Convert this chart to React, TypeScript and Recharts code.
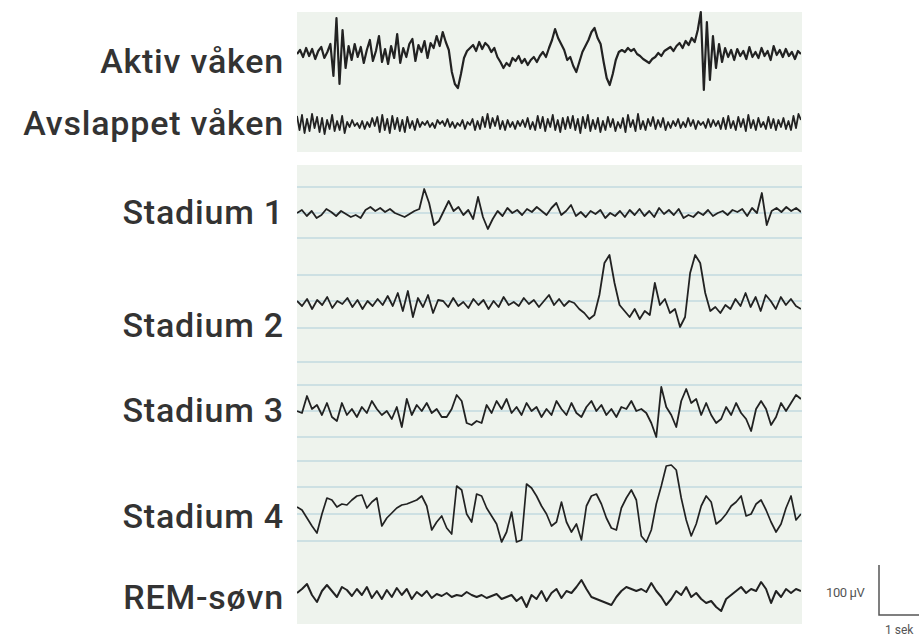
import { Line, LineChart, XAxis, YAxis } from 'recharts'

// EEG traces, amplitude (approx. 2 µV per step, up = positive)
const aktiv = [
  0, 4, -3, 6, -2, 5, -5, 3, 7, -4, 2,
  10, -22, 36, -30, 24, -14, 8,
  -6, 10, -3, 7, -9, 4, 14, -7, 3, 18, -8, 5, -10, 8, -4, 20, -9, 6, -3, 10, 15, -7, 9, 2, 13, -4, 11, 6, 18, 8, 22, 12,
  4, -18, -30, -34, -20, -4, 3, 6,
  9, 3, 12, 5, 11, 8, 2, 6, -3, -8,
  -14, -9, -12, -4, -7, -2, -9, -5, -11, -6, -3, -8, -2, 2, -3,
  6, 14, 25, 16, 10, 4, -6, -3, -12, -18, -8, 2, 8, 14, 22, 26, 16, 10, -8, -24, -31, -20, -6, 2, 4,
  2, 6, 3, 5, 0, -2, -5, -7, -9, -5, -3, 1, -2, 3, 5, 7, 3, 8, 11, 6, 13, 9, 16, 12,
  24, 42, -36, 32, -26, 18, -14, 10, -8,
  6, -3, 4, -6, 5, -2, 3, -5, 7, -3, 2, -4, 6, -2, 3, -6, 8, -1, 4, -3, 5, -2, 2, -5, 3, 0,
]

const avslappet = [
  8, -6, 9, -9, 5, -7, 10, -4, 7, -8, 6, -10, 4, -5, 9, -7, 3, -6, 8, -9,
  2, -3, 4, -2, 1, -4, 3, -5, 2, -3, 6, -2,
  7, -8, 9, -6, 5, -9, 8, -5, 6, -7, 4, -8, 7, -4, 3, -6, 5, -3,
  2, -1, 3, -3, 1, -4, 4, 0, 3, -2, 5, -3, 2, -4, 1, -2, 4, -5, 2, -1,
  5, -6, 3, -5, 7, -3, 10, -4, 6, -2, 8, -5, 3, -6, 4, -3, 2, -5, 3, -2,
  4, -3, 6, -5, 2, -6, 8, -4, 7, -7, 5, -3, 9, -6, 4, -8, 6, -5, 7, -4,
  8, -6, 5, -9, 7, -4, 9, -7, 4, -5, 6, -8, 3, -6, 7, -3, 5, -7, 2, -4,
  6, -8, 9, -3, 4, -7, 10, -5, 3, -6, 5, -2, 7, -5, 4, -3, 6, -6, 2, -4,
  3, -2, 5, -4, 2, -3, 6, -2, 4, -5, 3, -1, 2, -4, 5, -3, 4, -2, 3, -5,
  6, -5, 8, -4, 3, -6, 7, -3, 5, -7, 9, -4, 4, -6, 6, -3, 2, -5, 7, -4, 5, -6, 4, -3, 6, -5, 3, -6, 8, -4, 10, 4,
]

const stadium1 = [
  0, 3, -3, 2, -5, -2, 4, 1, -3, 2, -1, -4, -2, -5, 3, 6, 2, 5, 1, 4, 0, -2, -4, -1, 2, 4,
  24, 10, -12, -8, 2, 12, 2, 6, -2, 3, -6, 16, -4, -16, -6, 2, -3, 5, 0, 3, -2, 4, 1, 6, 2,
  -2, 5, 10, -2, 2, 8, -3, 1, -4, 2, -1, 3, -5, 0, -3, 2, -4, 3, -2, 4, -3, 2, -4, 5, -1, 3,
  -2, 4, -5, -2, -4, 1, -2, 3, -3, 0, 2, -2, 3, 1, 4, -3, 5, 0, 20, -12, 2, 5, 1, 6, 2, 5, 1,
]

const stadium2 = [
  2, -3, 4, -6, 3, -2, 6, -5, 2, -1, 5, -4, 3, -6, 2, -3, 4, -2, 7, -3,
  10, -8, 12, -14, 5, -4, 8, -10, 3,
  2, -4, 5, -3, 1, -5, 4, -2, 3, -6, 2, -4, 6, -2, 1, -3, 5, -1, 3, -4, 2, 8, -2, 4, -3, 2, 0,
  -6, -10, -16,
  -12, 8, 40, 48,
  20, -2, -8, -14, -6, -16, -8, -12,
  20, -2, 4, -10, -6, -24, -14, 30,
  48, 40, 10, -8,
  -4, -10, -2, -6, 4, -3, 10, -4, 6, -8, 8, 2, -6, 6, -2, 4, -3, -6,
]

const stadium3 = [
  0, -2, 15, 2, 6, -4, 8, -6, -10, 8, -4, 2, -6, 4, -2, 10, 2, -4, 0, -8, 4, -16, 12, -4, 6,
  0, 8, -2, 2, -6, -6, 2, 16, 10, -12, -14, -10, -12, 6, -2, 10, 2, 12, -2, 4, -4, 8, 0, 4,
  -6, 2, -4, 10, 2, -4, 8, -2, -6, 4, 10, 0, 6, -4, 2, -6, 4, 2, 10, 0, 2, -2, -12, -26, 24,
  4, -4, -16, 10, 22, 8, 12, -4, 8, -4, -12, -8, 4, -4, 8, -2, -8, -20, 2, 10, 2, -14, -6, 8,
  0, 8, 16, 12,
]

const stadium4 = [
  3, 0, -8, -16, -23, -4, 12, 10, 3, 6, 5, 10, 14, 15, 2, 8, 12, -16, -8, -3, 2, 5, 6, 8, 10,
  14, 4, -20, -12, -6, -18, -24, 24, 20, -4, -12, 16, 14, 2, -6, -14, -32, -22, -2, -32, -30,
  26, 22, 14, 4, -4, -16, -12, 8, -12, -22, -14, -30, 4, 14, 16, 6, -8, -18, -20, 2, 12, 20,
  10, -26, -32, -20, 6, 24, 44, 45, 40, 12, -10, -26, -14, 4, 14, 8, -14, -10, -4, 4, 8, 14,
  -6, -4, 6, 10, 0, -12, -22, -14, 2, 14, -10, -4,
]

const remSovn = [
  0, 4, 9, -2, -9, 2, 8, 2, -4, 6, 3, -3, 4, -2, 6, -5, 2, -6, 3, -4, 5, -2, 4, -6, 1, -3, 2,
  -5, -1, -3, 0, -4, -2, -3, 1, -2, -4, -2, -5, -3, -1, -6, -4, -2, -8, -4, -14, -2, -6, 2, -8,
  0, 4, -5, 2, 0, 6, 13, 4, -4, -6, -8, -10, -12, -4, 2, 6, 4, 2, 4, 1, 10, 2, -4, -12, -6, 2,
  -2, 6, -4, 0, -6, -10, -8, -14, -18, -6, -2, 2, 6, 0, 4, 2, 11, 4, -10, 2, -4, 4, 0, 4, 2,
]

const labels = ['Aktiv våken', 'Avslappet våken', 'Stadium 1', 'Stadium 2', 'Stadium 3', 'Stadium 4', 'REM-søvn']
const series = [aktiv, avslappet, stadium1, stadium2, stadium3, stadium4, remSovn]

// horizontal ruling of the paper behind the sleep stages
const gridRows = [187, 213, 238, 275, 301, 328, 362, 385, 411, 437, 461, 487, 514, 541]

const W = 919
const H = 637
const TRACE_LEFT = 297
const TRACE_W = 504

const layout = [
  { top: 9, height: 90, labelY: 61, stroke: 2.2 },
  { top: 109, height: 30, labelY: 123, stroke: 1.8 },
  { top: 183, height: 60, labelY: 212, stroke: 1.8 },
  { top: 253, height: 100, labelY: 325, stroke: 1.8 },
  { top: 376, height: 70, labelY: 410, stroke: 1.8 },
  { top: 460, height: 100, labelY: 516, stroke: 1.7 },
  { top: 568, height: 50, labelY: 597, stroke: 2 },
]

function Trace({ values, width, height, stroke }: { values: number[]; width: number; height: number; stroke: number }) {
  const data = values.map((v, i) => ({ i, v }))
  const half = height / 2
  return (
    <LineChart width={width} height={height} data={data} margin={{ top: 0, right: 0, bottom: 0, left: 0 }}>
      <XAxis dataKey="i" type="number" domain={[0, values.length - 1]} hide />
      <YAxis type="number" domain={[-half, half]} hide allowDataOverflow />
      <Line
        type="linear"
        dataKey="v"
        stroke="#222"
        strokeWidth={stroke}
        strokeLinejoin="round"
        dot={false}
        isAnimationActive={false}
      />
    </LineChart>
  )
}

const paper = { position: 'absolute' as const, left: 297, width: 505, background: '#eef3ed' }

export default function App() {
  return (
    <div style={{ position: 'fixed', left: 0, top: 0, width: W, height: H, background: '#fff', overflow: 'hidden' }}>
      <div style={{ ...paper, top: 12, height: 140 }} />
      <div style={{ ...paper, top: 165, height: 459 }} />
      {gridRows.map((y) => (
        <div key={y} style={{ position: 'absolute', left: 297, width: 505, top: y - 1, height: 2, background: '#cde0e3' }} />
      ))}
      {series.map((values, k) => (
        <div key={labels[k]}>
          <div
            style={{
              position: 'absolute',
              right: W - 284,
              top: layout[k].labelY - 20,
              height: 40,
              lineHeight: '40px',
              fontFamily: 'Roboto, sans-serif',
              fontWeight: 500,
              fontSize: 34,
              letterSpacing: 0.8,
              color: '#333',
              whiteSpace: 'nowrap',
            }}
          >
            {labels[k]}
          </div>
          <div style={{ position: 'absolute', left: TRACE_LEFT, top: layout[k].top }}>
            <Trace values={values} width={TRACE_W} height={layout[k].height} stroke={layout[k].stroke} />
          </div>
        </div>
      ))}
      <svg width={W} height={H} style={{ position: 'absolute', left: 0, top: 0, pointerEvents: 'none' }}>
        <text x={826} y={597} fontFamily="Roboto, sans-serif" fontSize={13} letterSpacing={-0.4} fill="#555">
          100 µV
        </text>
        <polyline points="879,565 879,615 919,615" fill="none" stroke="#555" strokeWidth={1.5} />
        <text x={885} y={634} fontFamily="Roboto, sans-serif" fontSize={12} fill="#555">
          1 sek
        </text>
      </svg>
    </div>
  )
}
